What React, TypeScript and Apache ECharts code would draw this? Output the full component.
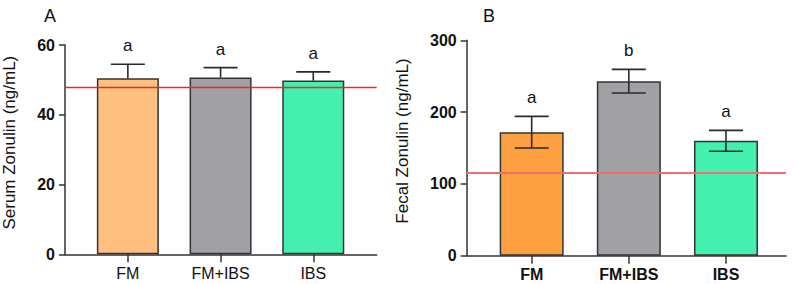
import React, { useEffect, useRef } from "react";
import * as echarts from "echarts";

const categories = ["FM", "FM+IBS", "IBS"];
const serumMean = [50.5, 50.7, 49.8];
const serumSD = [4.0, 2.8, 2.5];
const serumLetters = ["a", "a", "a"];
const serumRef = 48;
const fecalMean = [172, 243, 160];
const fecalSD = [22, 16.5, 14.5];
const fecalLetters = ["a", "b", "a"];
const fecalRef = 116;
const serumTicks = [0, 20, 40, 60];
const fecalTicks = [0, 100, 200, 300];

const colorsA = ["#FFC080", "#A1A0A5", "#43F0B0"];
const colorsB = ["#FFA040", "#A1A0A5", "#43F0B0"];
const FONT = "Liberation Sans, Arial, sans-serif";

function errorSeries(xi: number, mean: number[], sd: number[], letters: string[], lower: boolean) {
  return {
    type: "custom",
    xAxisIndex: xi,
    yAxisIndex: xi,
    z: 5,
    clip: false,
    data: mean.map((m, i) => [i, m, sd[i]]),
    renderItem: (params: any, api: any) => {
      const x = api.value(0);
      const m = api.value(1);
      const s = api.value(2);
      const t = api.coord([x, m + s]);
      const c = api.coord([x, m]);
      const b = api.coord([x, m - s]);
      const half = 17;
      const ls = { stroke: "#2a2a2a", lineWidth: 1.6 };
      const children: any[] = [
        { type: "line", shape: { x1: t[0], y1: t[1], x2: c[0], y2: c[1] }, style: ls },
        { type: "line", shape: { x1: t[0] - half, y1: t[1], x2: t[0] + half, y2: t[1] }, style: ls },
      ];
      if (lower) {
        children.push({ type: "line", shape: { x1: c[0], y1: c[1], x2: b[0], y2: b[1] }, style: ls });
        children.push({ type: "line", shape: { x1: b[0] - half, y1: b[1], x2: b[0] + half, y2: b[1] }, style: ls });
      }
      children.push({
        type: "text",
        x: t[0],
        y: t[1] - 18.5,
        style: {
          text: letters[params.dataIndex],
          fontSize: 17,
          fontFamily: FONT,
          fill: "#111",
          align: "center",
          verticalAlign: "middle",
        },
      });
      return { type: "group", children };
    },
  };
}

function barSeries(xi: number, mean: number[], colors: string[], width: number, ref: number, refColor: string, refWidth: number) {
  return {
    type: "bar",
    xAxisIndex: xi,
    yAxisIndex: xi,
    barWidth: width,
    color: refColor,
    data: mean.map((m, i) => ({
      value: [i, m],
      itemStyle: { color: colors[i], borderColor: "#333", borderWidth: 1.5 },
    })),
    markLine: {
      silent: true,
      symbol: "none",
      z: 10,
      label: { show: false },
      lineStyle: { color: refColor, width: refWidth, type: "solid", opacity: 1 },
      data: [{ yAxis: ref, lineStyle: { color: refColor, width: refWidth, type: "solid" } }],
    },
  };
}

function xAxis(gi: number, min: number, max: number, bold: boolean) {
  return {
    type: "value",
    gridIndex: gi,
    min,
    max,
    splitLine: { show: false },
    axisLine: { show: true, onZero: false, lineStyle: { color: "#333", width: 1.5 } },
    axisTick: { show: true, length: 8, customValues: [0, 1, 2], lineStyle: { color: "#333", width: 1.5 } },
    axisLabel: {
      customValues: [0, 1, 2],
      formatter: (v: number) => categories[Math.round(v)] ?? "",
      fontSize: 16,
      fontFamily: FONT,
      fontWeight: bold ? "bold" : "normal",
      color: "#111",
      margin: 11,
    },
  };
}

function yAxis(gi: number, max: number, interval: number, name: string, gap: number) {
  return {
    type: "value",
    gridIndex: gi,
    min: 0,
    max,
    interval,
    name,
    nameLocation: "middle",
    nameGap: gap,
    nameTextStyle: { fontSize: 17, fontFamily: FONT, color: "#111", padding: [0, 0, 0, 14] },
    splitLine: { show: false },
    axisLine: { show: true, onZero: false, lineStyle: { color: "#333", width: 1.5 } },
    axisTick: { show: true, length: 6, lineStyle: { color: "#333", width: 1.5 } },
    axisLabel: { fontSize: 16, fontWeight: "bold", fontFamily: FONT, color: "#111", margin: 10 },
  };
}

export default function App() {
  const ref = useRef<HTMLDivElement>(null);
  useEffect(() => {
    const chart = echarts.init(ref.current!, undefined, { renderer: "svg" });
    chart.setOption({
      animation: false,
      backgroundColor: "#fff",
      title: [
        { text: "A", left: 39, top: 2, textStyle: { fontSize: 18, fontWeight: "normal", fontFamily: FONT, color: "#111" } },
        { text: "B", left: 478, top: 2, textStyle: { fontSize: 18, fontWeight: "normal", fontFamily: FONT, color: "#111" } },
      ],
      grid: [
        { left: 62.3, top: 45, width: 314.4, height: 209.3 },
        { left: 466.7, top: 40.3, width: 319.3, height: 215.4 },
      ],
      xAxis: [xAxis(0, -0.678, 2.684, false), xAxis(1, -0.669, 2.618, true)],
      yAxis: [
        yAxis(0, serumTicks[serumTicks.length - 1], serumTicks[1] - serumTicks[0], "Serum Zonulin (ng/mL)", 47),
        yAxis(1, fecalTicks[fecalTicks.length - 1], fecalTicks[1] - fecalTicks[0], "Fecal Zonulin (ng/mL)", 56),
      ],
      series: [
        barSeries(0, serumMean, colorsA, 62, serumRef, "#FF2020", 1.3),
        errorSeries(0, serumMean, serumSD, serumLetters, false),
        barSeries(1, fecalMean, colorsB, 64, fecalRef, "#F07070", 2),
        errorSeries(1, fecalMean, fecalSD, fecalLetters, true),
      ],
    });
    return () => chart.dispose();
  }, []);
  return <div ref={ref} style={{ position: "fixed", left: 0, top: 0, width: 796, height: 284 }} />;
}
